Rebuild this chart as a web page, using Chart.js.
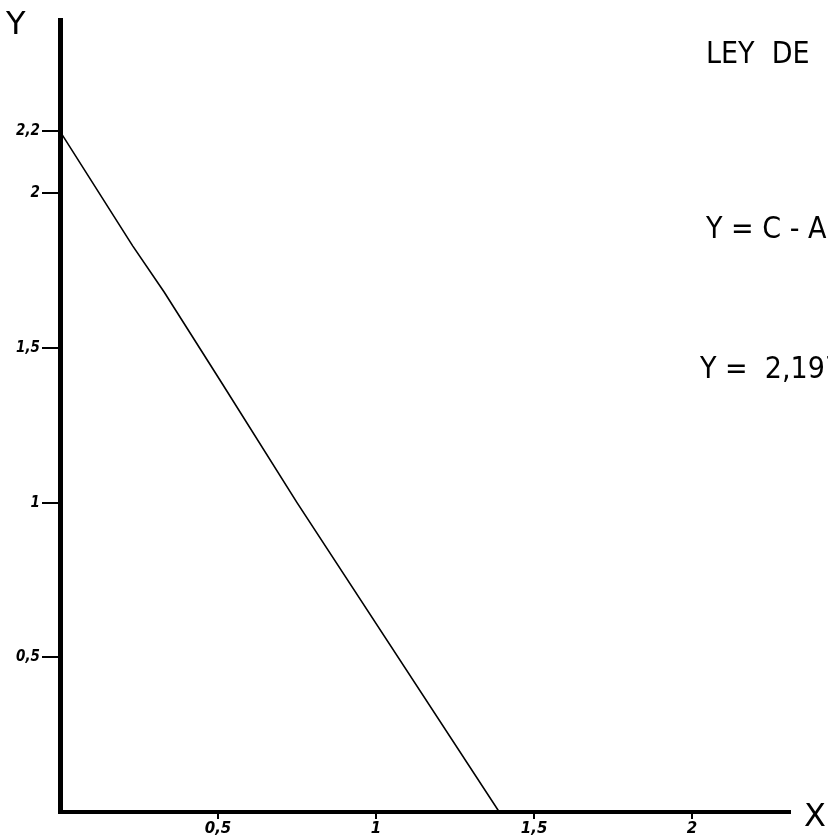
<!DOCTYPE html>
<html>
<head>
<meta charset="utf-8">
<script src="https://cdn.jsdelivr.net/npm/chart.js@4/dist/chart.umd.min.js"></script>
<style>
  html, body { margin: 0; padding: 0; background: #fff; }
  #wrap { width: 828px; height: 839px; position: relative; }
</style>
</head>
<body>
<div id="wrap"><canvas id="chart"></canvas></div>
<script>
// values
const lineX = [0, 0.23, 0.33, 0.51, 0.75, 1.39]
const lineY = [2.2, 1.83, 1.68, 1.39, 1.0, 0]
const xTicks = [0.5, 1, 1.5, 2]
const yTicks = [0.5, 1, 1.5, 2, 2.2]

const comma = v => String(v).replace('.', ',')

// free text of the page (axis letters + the formulas on the right)
const notes = {
  id: 'notes',
  afterDraw(chart) {
    const c = chart.ctx
    c.save()
    c.fillStyle = '#000'
    c.textBaseline = 'alphabetic'
    c.font = '32px "DejaVu Sans"'
    c.fillText('Y', 6, 34)
    c.fillText('X', 804, 826)
    c.font = '30px "DejaVu Sans Condensed", "DejaVu Sans"'
    c.fillText('LEY  DE', 706, 63)
    c.fillText('Y = C - A', 706, 238)
    c.fillText('Y =  2,197', 700, 378)
    c.restore()
  }
}

new Chart(document.getElementById('chart'), {
  type: 'scatter',
  data: {
    datasets: [{
      data: lineX.map((x, i) => ({ x: x, y: lineY[i] })),
      showLine: true,
      borderColor: '#000',
      borderWidth: 1.6,
      pointRadius: 0,
      tension: 0
    }]
  },
  options: {
    responsive: true,
    maintainAspectRatio: false,
    animation: false,
    layout: { padding: { top: 20, right: 38, left: 0, bottom: 0 } },
    plugins: { legend: { display: false }, tooltip: { enabled: false } },
    scales: {
      x: {
        type: 'linear',
        min: 0,
        max: 2.31,
        afterBuildTicks: s => { s.ticks = xTicks.map(v => ({ value: v })) },
        afterFit: s => { s.height = 27 },
        border: { color: '#000', width: 4 },
        grid: { drawOnChartArea: false, color: '#000', lineWidth: 2, tickLength: 7 },
        ticks: {
          color: '#000',
          padding: 1,
          maxRotation: 0,
          autoSkip: false,
          font: { family: 'DejaVu Sans', size: 15, style: 'italic', weight: 'bold' },
          callback: v => comma(v)
        }
      },
      y: {
        type: 'linear',
        min: 0,
        max: 2.56,
        afterBuildTicks: s => { s.ticks = yTicks.map(v => ({ value: v })) },
        afterFit: s => { s.width = 60 },
        border: { color: '#000', width: 5 },
        grid: { drawOnChartArea: false, color: '#000', lineWidth: 2, tickLength: 18 },
        ticks: {
          color: '#000',
          padding: 2,
          font: { family: 'DejaVu Sans Condensed', size: 15, style: 'italic', weight: 'bold' },
          callback: v => comma(v)
        }
      }
    }
  },
  plugins: [notes]
})
</script>
</body>
</html>
